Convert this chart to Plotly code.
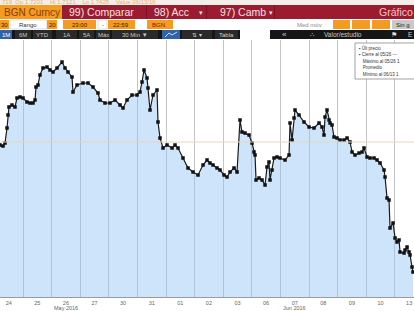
import plotly.graph_objects as go

# ---------------- data (session index: 0 = start of 24 May session) ----------------
day_labels = ["24", "25", "26", "27", "30", "31", "01", "02", "03", "06", "07", "08", "09", "10", "13"]
month_labels = ["May 2016", "Jun 2016"]
month_pos = [2.5, 10.5]
month_break = 6.0
prev_close = 1.7498

t = [0.15, 0.196, 0.301, 0.371, 0.441, 0.476, 0.510, 0.615, 0.720, 0.790, 0.895, 1.000, 1.140, 1.245,
     1.350, 1.420, 1.455, 1.524, 1.594, 1.699, 1.839, 1.944, 2.049, 2.189, 2.364, 2.469, 2.573, 2.713,
     2.748, 2.888, 3.098, 3.273, 3.448, 3.622, 3.692, 3.867, 4.042, 4.217, 4.392, 4.497, 4.636, 4.811,
     4.986, 5.091, 5.161, 5.231, 5.336, 5.371, 5.441, 5.545, 5.685, 5.720, 5.790, 5.895, 6.035, 6.210,
     6.315, 6.420, 6.594, 6.769, 6.944, 7.119, 7.294, 7.434, 7.538, 7.643, 7.783, 7.888, 8.028, 8.133,
     8.238, 8.378, 8.483, 8.587, 8.657, 8.762, 8.902, 9.007, 9.077, 9.112, 9.147, 9.252, 9.357, 9.462,
     9.531, 9.601, 9.636, 9.706, 9.776, 9.881, 9.986, 10.161, 10.301, 10.336, 10.406, 10.476, 10.510,
     10.650, 10.825, 11.000, 11.175, 11.350, 11.455, 11.524, 11.559, 11.629, 11.699, 11.734, 11.804,
     11.874, 11.979, 12.084, 12.224, 12.329, 12.434, 12.504, 12.608, 12.748, 12.853, 12.923, 13.028,
     13.133, 13.273, 13.378, 13.483, 13.622, 13.657, 13.727, 13.797, 13.832, 13.937, 14.007, 14.077,
     14.147, 14.182, 14.322, 14.357, 14.427, 14.497, 14.531, 14.601, 14.636]

price = [1.7495, 1.7495, 1.7494, 1.7497, 1.7512, 1.7525, 1.7533, 1.7535, 1.7533, 1.7542, 1.7543, 1.7542,
         1.7538, 1.7537, 1.7537, 1.7540, 1.7553, 1.7555, 1.7565, 1.7572, 1.7573, 1.7570, 1.7568, 1.7572,
         1.7578, 1.7572, 1.7568, 1.7563, 1.7548, 1.7555, 1.7557, 1.7557, 1.7553, 1.7547, 1.7540, 1.7537,
         1.7537, 1.7540, 1.7535, 1.7532, 1.7540, 1.7545, 1.7545, 1.7548, 1.7558, 1.7570, 1.7562, 1.7552,
         1.7530, 1.7545, 1.7550, 1.7518, 1.7502, 1.7492, 1.7495, 1.7492, 1.7495, 1.7492, 1.7482, 1.7472,
         1.7468, 1.7465, 1.7475, 1.7480, 1.7477, 1.7475, 1.7472, 1.7470, 1.7465, 1.7463, 1.7468, 1.7472,
         1.7468, 1.7520, 1.7508, 1.7507, 1.7505, 1.7497, 1.7488, 1.7485, 1.7460, 1.7462, 1.7460, 1.7455,
         1.7473, 1.7478, 1.7460, 1.7470, 1.7482, 1.7483, 1.7482, 1.7480, 1.7485, 1.7517, 1.7500, 1.7522,
         1.7530, 1.7525, 1.7518, 1.7513, 1.7512, 1.7517, 1.7513, 1.7505, 1.7523, 1.7530, 1.7520, 1.7517,
         1.7515, 1.7503, 1.7502, 1.7500, 1.7500, 1.7502, 1.7498, 1.7488, 1.7485, 1.7487, 1.7488, 1.7492,
         1.7483, 1.7482, 1.7482, 1.7480, 1.7477, 1.7470, 1.7463, 1.7442, 1.7440, 1.7412, 1.7417, 1.7402,
         1.7398, 1.7400, 1.7388, 1.7387, 1.7390, 1.7393, 1.7388, 1.7385, 1.7373, 1.7368]

legend_lines = ["\u25aa Últ precio", "\u25aa Cierre al 05/26 ---", "   Máximo al 05/26 1", "   Promedio",
                "   Mínimo al 06/13 1"]

# ---------------- layout helpers (pixel -> paper) ----------------
W, H = 414, 311
TOP, BOT = 40, 297
FONT = "Liberation Sans, Arial, sans-serif"


def X(px):
    return px / W


def Y(py):
    return (BOT - py) / (BOT - TOP)


shapes = []
annos = []


def rect(x0, y0, x1, y1, fill, line=None, lw=0):
    shapes.append(dict(type="rect", xref="paper", yref="paper", x0=X(x0), x1=X(x1), y0=Y(y1), y1=Y(y0),
                       fillcolor=fill, line=dict(color=line or fill, width=lw), layer="above"))


def txt(px, py, s, size=7, color="#222", anchor="left", bold=False):
    if bold:
        s = "<b>" + s + "</b>"
    annos.append(dict(x=X(px), y=Y(py), xref="paper", yref="paper", text=s, showarrow=False,
                      xanchor=anchor, yanchor="middle", font=dict(size=size, color=color, family=FONT)))


fig = go.Figure()
fig.add_trace(go.Scatter(
    x=t, y=price, mode="lines+markers",
    line=dict(color="#1a1a1a", width=1.2),
    marker=dict(symbol="square", size=3.5, color="#111111"),
    fill="tozeroy", fillcolor="rgba(146,195,246,0.45)",
    hoverinfo="skip", showlegend=False))

# previous close line
fig.add_hline(y=prev_close, line=dict(color="#e6d8b8", width=1), layer="above")
# month separator
shapes.append(dict(type="line", xref="x", yref="paper", x0=month_break, x1=month_break, y0=-14 / 257, y1=1,
                   line=dict(color="#9aa4b0", width=1), layer="below"))

# ---------------- header ----------------
orange = "#f39c1f"
red = "#9b1b30"
rect(0, 0, 414, 5, "#f4eee8")
txt(0, 2, "719  Op 1.7201    Hi 1.7121    Lo 1.7425    Value 06/13/16", size=6, color="#e8b070")
rect(0, 5, 62, 19, orange)
txt(2, 12.5, "BGN Curncy", size=10, color="#8a3a12")
rect(62, 5, 414, 19, red)
for sx in (146, 206, 274):
    rect(sx, 5, sx + 1, 19, "#7e1222")
txt(67, 12.5, "99) Comparar", size=10.5, color="#f6e2e2")
txt(152, 12.5, "98) Acc", size=10.5, color="#f6e2e2")
txt(197, 12.5, "\u25be", size=7, color="#f6e2e2")
txt(218, 12.5, "97) Camb", size=10.5, color="#f6e2e2")
txt(267, 12.5, "\u25be", size=7, color="#f6e2e2")
txt(377, 12.5, "Gráfico", size=10.5, color="#f4c8c8")

# row 2
rect(0, 20, 9, 29, orange); txt(4.5, 24.5, "30", 6, "#3a2000", "center")
rect(10, 20, 47, 29, "#ffffff", "#bbbbbb", 0.5); txt(28, 24.5, "Rango", 6, "#333", "center")
rect(47, 20, 57, 29, orange); txt(52, 24.5, "20", 6, "#3a2000", "center")
rect(63, 20, 96, 29, orange); txt(79.5, 24.5, "23:00", 6, "#3a2000", "center")
rect(98, 20, 107, 29, "#ffffff", "#bbbbbb", 0.5); txt(102.5, 24.5, "-", 6, "#333", "center")
rect(108, 20, 135, 29, orange); txt(121, 24.5, "22:59", 6, "#3a2000", "center")
rect(147, 20, 173, 29, orange); txt(150, 24.5, "BGN", 6, "#7a2000")
txt(309, 24.5, "Med móv", 6, "#888", "center")
for a, b in ((333, 350), (352, 370), (372, 390)):
    rect(a, 20, b, 29, orange)
rect(392, 20, 414, 29, "#c9c9c9"); txt(394, 24.5, "Sin g", 6, "#222")

# row 3 toolbar
rect(0, 30, 240, 39, "#161616")
rect(0, 30, 12, 39, "#2f63a8"); txt(6, 34.5, "1M", 6, "#ffffff", "center")
for a, b, s in ((15, 31, "6M"), (33, 52, "YTD"), (56, 77, "1A"), (79, 94, "5A"), (96, 110, "Máx"),
                (112, 158, "30 Min \u25bc")):
    rect(a, 30, b, 39, "#2a2a2a"); txt((a + b) / 2, 34.5, s, 6, "#c8c8c8", "center")
rect(162, 30, 180, 39, "#2f63a8")
shapes.append(dict(type="path", xref="paper", yref="paper",
                   path=f"M {X(165)} {Y(37)} L {X(169)} {Y(33)} L {X(172)} {Y(35)} L {X(177)} {Y(32)}",
                   line=dict(color="#cfe0ff", width=1), layer="above"))
rect(182, 30, 212, 39, "#2a2a2a"); txt(197, 34.5, "\u21c5 \u25be", 6, "#d0d0d0", "center")
rect(215, 30, 238, 39, "#2a2a2a"); txt(226.5, 34.5, "Tabla", 6, "#d0d0d0", "center")
rect(270, 30, 414, 39, "#161616")
txt(284, 34.5, "\u00ab", 8, "#c8c8c8", "center")
txt(312, 34.5, "\u2234", 7, "#c8c8c8", "center")
txt(322, 34.5, "Valor/estudio", 6.5, "#c8c8c8")
txt(394, 34.5, "\u2691", 7, "#e0e0e0", "center")
txt(406, 34.5, "E", 6.5, "#c8c8c8")

# legend box
shapes.append(dict(type="rect", xref="paper", yref="paper", x0=X(355), x1=X(416), y0=Y(79), y1=Y(43),
                   fillcolor="#ffffff", line=dict(color="#8a8a8a", width=0.8), layer="above"))
for i, s in enumerate(legend_lines):
    txt(357, 48 + i * 6.5, s, 4.5, "#333")

# month labels
for s, p in zip(month_labels, month_pos):
    annos.append(dict(x=p, y=Y(308), xref="x", yref="paper", text=s, showarrow=False, xanchor="center",
                      yanchor="middle", font=dict(size=5.5, color="#666", family=FONT)))

fig.update_layout(
    width=W, height=H, margin=dict(l=0, r=0, t=TOP, b=H - BOT),
    paper_bgcolor="#ffffff", plot_bgcolor="#ffffff",
    shapes=shapes, annotations=annos, showlegend=False,
    xaxis=dict(range=[0.196, 14.67], tickvals=[i + 0.5 for i in range(len(day_labels))], ticktext=day_labels,
               showgrid=False, zeroline=False, showline=True, linecolor="#9a9a9a", linewidth=1,
               ticks="", tickfont=dict(size=5.5, color="#666", family=FONT),
               minor=dict(tickvals=list(range(1, 15)), showgrid=True, gridcolor="#c4c4c4", gridwidth=1)),
    yaxis=dict(range=[1.7343, 1.7600], showgrid=False, zeroline=False, showticklabels=False, ticks=""),
)
fig.write_html("out.html")
